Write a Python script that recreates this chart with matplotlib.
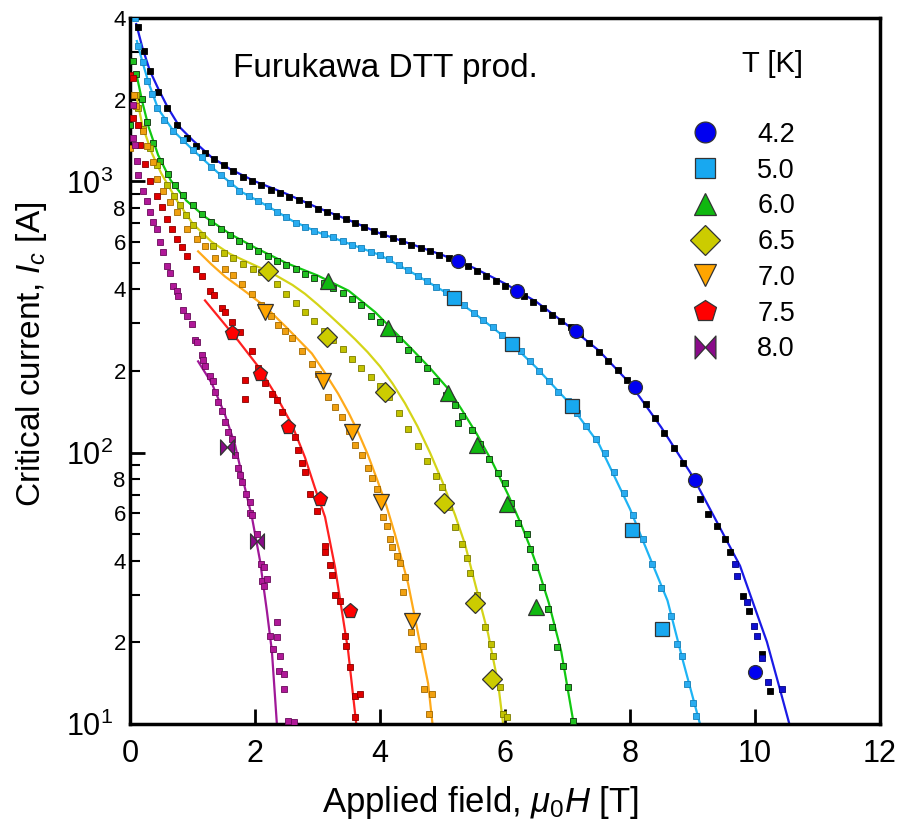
import matplotlib
matplotlib.use("Agg")
import matplotlib.pyplot as plt
from matplotlib.path import Path
from matplotlib.ticker import FixedLocator, LogLocator, FuncFormatter, LogFormatterSciNotation
import numpy as np

plt.rcParams['font.family'] = ['Liberation Sans', 'DejaVu Sans']
plt.rcParams['mathtext.fontset'] = 'custom'
plt.rcParams['mathtext.rm'] = 'Liberation Sans'
plt.rcParams['mathtext.it'] = 'Liberation Sans:italic'
plt.rcParams['mathtext.bf'] = 'Liberation Sans:bold'

# ---- 4.2 K ----
h42 = [0.13, 0.22, 0.32, 0.45, 0.59, 0.75, 0.91, 1.05, 1.2, 1.35, 1.5, 1.65, 1.8, 1.95, 2.1, 2.25, 2.4,
       2.55, 2.7, 2.85, 3.0, 3.15, 3.3, 3.45, 3.6, 3.75, 3.9, 4.05, 4.2, 4.35, 4.5, 4.65, 4.8, 4.95, 5.1,
       5.25, 5.4, 5.55, 5.7, 5.85, 6.0, 6.15, 6.3, 6.45, 6.6, 6.75, 6.9, 7.05, 7.2, 7.35, 7.5, 7.65, 7.8,
       7.95, 8.1, 8.25, 8.4, 8.55, 8.7, 8.85, 9.0, 9.12, 9.25, 9.39, 9.52, 9.6, 9.81, 9.9, 10.11, 10.24]
ic42 = [3715, 3020, 2550, 2140, 1860, 1620, 1445, 1350, 1275, 1210, 1150, 1090, 1040, 1000, 966, 933, 906,
        879, 851, 826, 794, 771, 746, 724, 700, 678, 656, 637, 619, 603, 585, 569, 552, 536, 521,
        507, 487, 468, 449, 431, 413, 397, 378, 359, 340, 323, 306, 291, 274, 253, 234, 217, 201,
        186, 171, 151, 134, 118, 104, 92, 81.5, 67.6, 59.6, 53.8, 48, 43, 29.6, 26.1, 18.1, 13.2]
h42_b = [9.68, 9.71, 9.87, 9.98, 10.03, 10.11, 10.21, 10.43]
ic42_b = [38.9, 35.2, 28.2, 23, 21.1, 17.5, 14.3, 13.5]
fit42_h = [0.1, 0.2, 0.32, 0.45, 0.6, 0.8, 1.0, 1.3, 1.6, 2.0, 2.5, 3.0, 3.5, 4.0, 4.5, 5.0, 5.5, 6.0,
           6.5, 7.0, 7.5, 8.0, 8.5, 9.0, 9.4, 9.76, 10.0, 10.19, 10.4, 10.55]
fit42_ic = [3800, 3100, 2550, 2200, 1880, 1580, 1420, 1230, 1110, 1000, 900, 800, 720, 643, 587, 535, 480,
            420, 360, 295, 238, 180, 124, 82, 55, 38.3, 26.7, 20.1, 13.4, 10]
big42_h = [5.25, 6.19, 7.14, 8.08, 9.04, 10.0]
big42_ic = [507, 393, 282, 174, 79, 15.6]

# ---- 5.0 K ----
h50 = [0.08, 0.13, 0.2, 0.27, 0.35, 0.43, 0.55, 0.69, 0.85, 1.0, 1.15, 1.3, 1.45, 1.6, 1.75, 1.9, 2.05,
       2.2, 2.35, 2.5, 2.65, 2.8, 2.95, 3.1, 3.25, 3.4, 3.55, 3.7, 3.85, 4.0, 4.15, 4.3, 4.45, 4.6, 4.75,
       4.9, 5.05, 5.2, 5.35, 5.5, 5.65, 5.8, 5.95, 6.1, 6.25, 6.4, 6.55, 6.7, 6.85, 7.0, 7.15, 7.3, 7.45,
       7.6, 7.75, 7.9, 8.05, 8.2, 8.35, 8.5, 8.65, 8.75, 8.83, 8.91, 9.0, 9.06]
ic50 = [4000, 3160, 2750, 2340, 2100, 1860, 1690, 1530, 1420, 1300, 1230, 1132, 1059, 989, 923, 883, 847,
        811, 773, 738, 703, 678, 658, 638, 621, 603, 585, 568, 551, 535, 516, 493, 470, 449, 429,
        409, 390, 372, 349, 328, 308, 290, 272, 256, 236, 217, 200, 184, 168, 155, 140, 125, 112,
        100, 85, 71, 59, 48, 39, 31.6, 25, 19.7, 17.8, 14.1, 12, 10.7]
fit50_h = [0.11, 0.2, 0.3, 0.45, 0.7, 1.0, 1.4, 1.8, 2.2, 2.6, 3.0, 3.5, 4.0, 4.5, 5.0, 5.5, 6.0, 6.5,
           7.0, 7.5, 8.0, 8.3, 8.6, 8.85, 9.12]
fit50_ic = [3290, 2750, 2300, 1850, 1530, 1310, 1080, 910, 811, 715, 650, 590, 535, 463, 396, 328, 266,
            206, 155, 108, 62, 42, 28.5, 17, 10]
big50_h = [5.18, 6.11, 7.07, 8.03, 8.51]
big50_ic = [373, 252, 148, 52, 22.4]

# ---- 6.0 K ----
h60 = [0.0, 0.05, 0.1, 0.19, 0.27, 0.37, 0.48, 0.6, 0.72, 0.85, 1.0, 1.15, 1.3, 1.45, 1.6, 1.75, 1.9,
       2.05, 2.2, 2.35, 2.5, 2.65, 2.8, 2.95, 3.1, 3.25, 3.4, 3.55, 3.7, 3.85, 4.0, 4.15, 4.3, 4.45, 4.6,
       4.75, 4.9, 5.05, 5.2, 5.25, 5.31, 5.47, 5.6, 5.75, 5.89, 6.0, 6.1, 6.21, 6.35, 6.4, 6.48, 6.59,
       6.69, 6.75, 6.83, 6.93, 7.0, 7.09]
ic60 = [1610, 2770, 2480, 2020, 1650, 1380, 1190, 1060, 970, 890, 820, 760, 710, 670, 635, 605, 578,
        553, 530, 510, 492, 474, 457, 440, 423, 405, 388, 370, 350, 318, 302, 282, 262, 240, 222,
        205, 183, 163, 150, 129, 136, 121, 108, 95, 84, 77, 65, 55, 50, 44, 38, 32,
        26.6, 22.8, 19.2, 16.4, 13.7, 10.3]
fit60_h = [0.1, 0.2, 0.3, 0.45, 0.65, 0.9, 1.2, 1.6, 2.0, 2.5, 3.0, 3.5, 3.92, 4.13, 4.5, 4.8, 5.09,
           5.3, 5.55, 5.8, 6.05, 6.25, 6.4, 6.55, 6.7, 6.9, 7.1]
fit60_ic = [2500, 1950, 1580, 1250, 1010, 850, 740, 640, 570, 500, 450, 395, 330, 295, 242, 205, 172,
            145, 117, 92, 70, 55, 45, 36, 28, 18.5, 10]
big60_h = [3.17, 4.13, 5.09, 5.55, 6.03, 6.5]
big60_ic = [428, 287, 166, 107, 64.9, 27]

# ---- 6.5 K ----
h65 = [0.1, 0.13, 0.21, 0.32, 0.43, 0.59, 0.7, 0.8, 0.9, 1.01, 1.15, 1.33, 1.5, 1.65, 1.8, 1.97, 2.1,
       2.21, 2.35, 2.5, 2.65, 2.8, 2.95, 3.1, 3.25, 3.4, 3.55, 3.7, 3.85, 4.0, 4.15, 4.3, 4.45, 4.6,
       4.75, 4.9, 4.99, 5.1, 5.2, 5.31, 5.39, 5.44, 5.55, 5.68, 5.78, 5.81, 5.92, 5.97, 6.03]
ic65 = [2075, 1860, 1555, 1325, 1146, 966, 880, 815, 750, 688, 635, 580, 545, 520, 497, 477, 462,
        450, 418, 386, 357, 330, 305, 282, 261, 241, 222, 206, 190, 176, 160, 140, 122, 106,
        93, 82, 75, 63, 53, 46, 41, 36, 30, 22.8, 19.7, 17.8, 13.7, 10.9, 10.6]
fit65_h = [0.1, 0.2, 0.35, 0.5, 0.75, 1.0, 1.3, 1.6, 2.0, 2.3, 2.6, 2.8, 3.0, 3.2, 3.4, 3.6, 3.8, 4.0,
           4.2, 4.4, 4.6, 4.8, 5.0, 5.2, 5.36, 5.52, 5.73, 5.89, 5.97]
fit65_ic = [2075, 1600, 1270, 1070, 850, 700, 600, 540, 490, 455, 415, 385, 352, 320, 290, 262, 235, 208,
            180, 152, 125, 100, 78, 59, 46, 33, 21.5, 14.1, 10]
big65_h = [2.21, 3.15, 4.08, 5.02, 5.52, 5.79]
big65_ic = [466, 268, 168, 65, 27.9, 14.7]

# ---- 7.0 K ----
h70 = [0.0, 0.06, 0.1, 0.21, 0.27, 0.37, 0.43, 0.53, 0.64, 0.75, 0.91, 1.07, 1.2, 1.36, 1.52, 1.65,
       1.79, 1.95, 2.1, 2.25, 2.37, 2.48, 2.59, 2.75, 2.91, 3.0, 3.17, 3.28, 3.39, 3.5, 3.6, 3.71, 3.8,
       3.87, 3.95, 4.05, 4.11, 4.16, 4.19, 4.27, 4.32, 4.37, 4.4, 4.5, 4.61, 4.69, 4.71, 4.78, 4.83]
ic70 = [1330, 2075, 1890, 1530, 1347, 1175, 1017, 918, 836, 769, 665, 611, 580, 520, 477, 450,
        417, 383, 350, 318, 296, 280, 265, 238, 213, 195, 160, 147, 135, 120, 107, 98, 88,
        81, 73.6, 58, 53.8, 48.2, 45, 41.7, 39.3, 30.7, 34.8, 21.8, 18.9, 19.4, 13.5, 10.9, 12.9]
fit70_h = [1.09, 1.3, 1.52, 1.8, 2.16, 2.5, 2.91, 3.1, 3.33, 3.5, 3.65, 3.8, 3.95, 4.1, 4.24, 4.45,
           4.61, 4.77, 4.84]
fit70_ic = [552, 495, 446, 400, 346, 290, 232, 200, 165, 140, 119, 99, 80, 64, 50, 32.9, 21.5, 14.1, 10]
big70_h = [2.16, 3.09, 3.55, 4.02, 4.51]
big70_ic = [331, 183, 119, 66, 24]

# ---- 7.5 K ----
h75 = [0.0, 0.05, 0.05, 0.13, 0.16, 0.24, 0.32, 0.43, 0.51, 0.59, 0.67, 0.75, 0.83, 0.91, 1.05, 1.15,
       1.28, 1.35, 1.47, 1.52, 1.63, 1.76, 1.84, 1.84, 1.95, 2.05, 2.16, 2.27, 2.35, 2.43, 2.53, 2.64,
       2.69, 2.75, 2.8, 2.88, 2.99, 3.12, 3.12, 3.2, 3.23, 3.28, 3.36, 3.44, 3.46, 3.52, 3.6, 3.68, 3.6]
ic75 = [2460, 2400, 1707, 1610, 1358, 1156, 1000, 881, 802, 724, 665, 611, 573, 530, 475, 446,
        393, 380, 340, 330, 304, 279, 185, 158, 236, 205, 180, 164, 156, 141, 127, 114,
        102, 92, 85, 70.6, 61.1, 45.4, 43, 38.6, 35.5, 29.9, 28.4, 21.1, 19.4, 16.2, 12.7, 12.9, 10.6]
fit75_h = [1.2, 1.45, 1.73, 2.05, 2.32, 2.59, 2.8, 2.96, 3.12, 3.28, 3.39, 3.49, 3.62]
fit75_ic = [364, 310, 259, 208, 165, 127, 96, 74, 58, 37.9, 26.1, 18.6, 10]
big75_h = [1.63, 2.08, 2.53, 3.04, 3.52]
big75_ic = [277, 195, 124, 67.6, 26.1]

# ---- 8.0 K ----
h80 = [0.05, 0.05, 0.08, 0.11, 0.13, 0.21, 0.27, 0.32, 0.37, 0.43, 0.48, 0.53, 0.59, 0.64, 0.69, 0.75,
       0.77, 0.85, 0.91, 0.99, 1.04, 1.07, 1.15, 1.17, 1.2, 1.28, 1.33, 1.36, 1.41, 1.47, 1.52, 1.57,
       1.63, 1.68, 1.73, 1.76, 1.79, 1.86, 1.92, 1.92, 1.95, 2.03, 2.1, 2.14, 2.11, 2.19, 2.14, 2.35,
       2.24, 2.35, 2.29, 2.4, 2.38, 2.46, 2.46, 2.53, 2.62]
ic80 = [1905, 1443, 1360, 1185, 1052, 918, 843, 774, 711, 665, 596, 547, 486, 461, 412, 393,
        377, 337, 318, 297, 261, 255, 230, 220, 208, 191, 183, 168, 154, 142, 130, 119,
        112, 98, 88, 83, 78, 70.6, 66, 60, 59, 50, 38.9, 37.9, 33.7, 34.3, 32.3, 23.8,
        21.1, 21, 18.9, 17.8, 15.7, 15.3, 13.5, 10.3, 10.2]
fit80_h = [1.09, 1.31, 1.52, 1.68, 1.84, 1.95, 2.08, 2.19, 2.27, 2.35]
fit80_ic = [217, 180, 138, 107, 74, 58, 40, 26.1, 18.6, 10]
big80_h = [1.55, 2.03]
big80_ic = [105, 47.3]

temps = ['4.2', '5.0', '6.0', '6.5', '7.0', '7.5', '8.0']

# sideways bow-tie marker for 8.0 K
bowtie = Path([(-1, -1.1), (-1, 1.1), (0, 0), (1, 1.1), (1, -1.1), (0, 0), (-1, -1.1)],
              [Path.MOVETO, Path.LINETO, Path.LINETO, Path.LINETO, Path.LINETO, Path.LINETO, Path.CLOSEPOLY])

# (points, fit, big markers, marker, line colour, point face, point edge, big face, big size)
series = [
    (h42, ic42, fit42_h, fit42_ic, big42_h, big42_ic, 'o', '#1a1ae6', '#000000', '#000000', '#0000f0', 10),
    (h50, ic50, fit50_h, fit50_ic, big50_h, big50_ic, 's', '#1eb4f5', '#29acf0', '#1580b8', '#18a8f0', 10),
    (h60, ic60, fit60_h, fit60_ic, big60_h, big60_ic, '^', '#11c811', '#20c020', '#0a300a', '#10b810', 11),
    (h65, ic65, fit65_h, fit65_ic, big65_h, big65_ic, 'D', '#d4d418', '#c2c200', '#7a7a00', '#cccc00', 10),
    (h70, ic70, fit70_h, fit70_ic, big70_h, big70_ic, 'v', '#ffaa1a', '#f0a010', '#a06800', '#ffa500', 11),
    (h75, ic75, fit75_h, fit75_ic, big75_h, big75_ic, 'p', '#ff2020', '#e00000', '#880000', '#ff0000', 11),
    (h80, ic80, fit80_h, fit80_ic, big80_h, big80_ic, bowtie, '#a01898', '#b01898', '#680a5a', '#8a0a8a', 11),
]

fig = plt.figure(figsize=(9, 8.22), dpi=100)
ax = fig.add_axes([130 / 900, 1 - 724 / 822, 750 / 900, 706 / 822])

handles = []
for (h, ic, fh, fic, bh, bic, mk, lc, pf, pe, bf, bs) in series:
    ax.plot(fh, fic, '-', color=lc, lw=1.6, zorder=2)
    ax.plot(h, ic, 's', ms=4.0, mfc=pf, mec=pe, mew=0.6, ls='none', zorder=3)
    big, = ax.plot(bh, bic, ls='none', marker=mk, ms=bs, mfc=bf, mec='#333333', mew=0.9, zorder=5)
    handles.append(big)

# second set of 4.2 K points near the tail
ax.plot(h42_b, ic42_b, 's', ms=4.0, mfc='#1010d0', mec='#000080', mew=0.6, ls='none', zorder=3)

ax.set_yscale('log')
ax.set_xlim(0, 12)
ax.set_ylim(10, 4000)

ax.xaxis.set_major_locator(FixedLocator([0, 2, 4, 6, 8, 10, 12]))
ax.yaxis.set_major_locator(FixedLocator([10, 100, 1000]))
ax.yaxis.set_minor_locator(LogLocator(base=10, subs=np.arange(2, 10)))
ax.yaxis.set_major_formatter(LogFormatterSciNotation())


def minor_label(v, pos):
    m = int(round(v / 10 ** np.floor(np.log10(v) + 1e-9)))
    return str(m) if m in (2, 4, 6, 8) else ''


ax.yaxis.set_minor_formatter(FuncFormatter(minor_label))

ax.tick_params(axis='both', which='major', direction='in', length=11, width=2, top=False, right=False)
ax.tick_params(axis='x', which='major', labelsize=22, pad=11)
ax.tick_params(axis='y', which='major', labelsize=22, pad=12)
ax.tick_params(axis='y', which='minor', direction='in', length=7, width=1.5, labelsize=16, pad=3, right=False)
ax.tick_params(axis='x', which='minor', bottom=False)
for s in ax.spines.values():
    s.set_linewidth(2.5)

ax.set_xlabel(r'Applied field, $\mu_0H$ [T]', fontsize=25)
ax.set_ylabel(r'Critical current, $I_c$ [A]', fontsize=24)
ax.xaxis.set_label_coords(0.468, -0.085)
ax.yaxis.set_label_coords(-0.108, 0.523)

ax.text(0.137, 0.916, 'Furukawa DTT prod.', transform=ax.transAxes, fontsize=24, ha='left', va='baseline')
ax.text(0.856, 0.923, 'T [K]', transform=ax.transAxes, fontsize=21, ha='center', va='baseline')

ax.legend(handles, temps, loc='upper left', bbox_to_anchor=(0.748, 0.853), frameon=False, fontsize=19.5,
          handlelength=1.0, handletextpad=1.45, labelspacing=0.36, borderpad=0, borderaxespad=0,
          markerscale=1.5)

fig.savefig('out.png', dpi=100)
